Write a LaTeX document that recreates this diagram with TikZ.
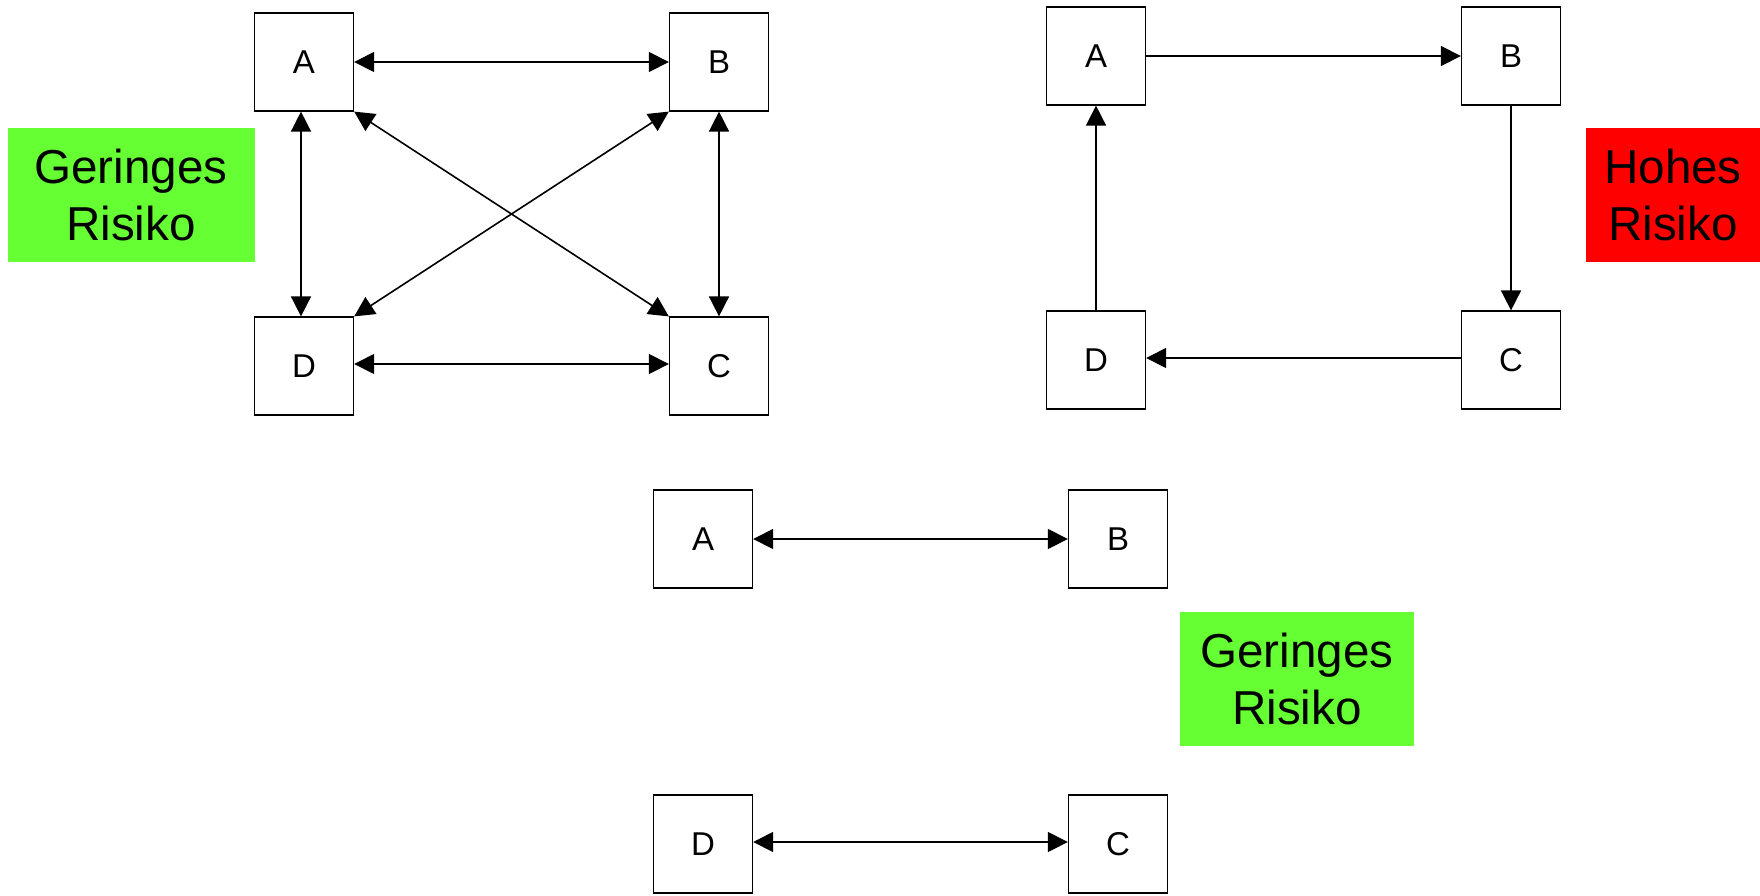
\documentclass[tikz,border=0pt]{standalone}
\usepackage{fontspec}
\setmainfont{Liberation Sans}
\usetikzlibrary{arrows.meta}
\definecolor{lowrisk}{RGB}{102,255,51}
\definecolor{highrisk}{RGB}{255,0,0}

\begin{document}
\begin{tikzpicture}[x=0.5pt,y=-0.5pt,thick,
	box/.style={rectangle,draw,fill=white,minimum width=49.4pt,minimum height=48.8pt,inner sep=0pt,font=\fontsize{16.5}{19}\selectfont},
	risk/.style={rectangle,inner sep=0pt,align=center,minimum height=67.3pt,font=\fontsize{23.8}{28.5}\selectfont},
	>={Triangle[length=10pt,width=10pt]}]
	\useasboundingbox (0,0) rectangle (1760,895);
	% Left group: everyone with everyone
	\node (la) [box] at (304,62) {A};
	\node (lb) [box] at (719,62) {B};
	\node (lc) [box] at (719,366) {C};
	\node (ld) [box] at (304,366) {D};
	\node (lrisk) [risk,fill=lowrisk,minimum width=123.5pt] at (131,195) {Geringes\\Risiko};
	\draw[<->] (la) -- (lb);
	\draw[<->] ([xshift=-1.5pt]la.south) -- ([xshift=-1.5pt]ld.north);
	\draw[<->] (lb) -- (lc);
	\draw[<->] ([yshift=1pt]ld.east) -- ([yshift=1pt]lc.west);
	\draw[<->] (la.south east) -- (lc.north west);
	\draw[<->] (lb.south west) -- (ld.north east);
	% Right group: one way round
	\node (ra) [box] at (1096,56) {A};
	\node (rb) [box] at (1511,56) {B};
	\node (rc) [box] at (1511,360) {C};
	\node (rd) [box] at (1096,360) {D};
	\node (rrisk) [risk,fill=highrisk,minimum width=87pt] at (1673,195) {Hohes\\Risiko};
	\draw[->] (ra) -- (rb);
	\draw[->] (rb) -- (rc);
	\draw[->] ([yshift=1pt]rc.west) -- ([yshift=1pt]rd.east);
	\draw[->] (rd) -- (ra);
	% Bottom group: pairs only
	\node (ba) [box] at (703,539) {A};
	\node (bb) [box] at (1118,539) {B};
	\node (bc) [box] at (1118,844) {C};
	\node (bd) [box] at (703,844) {D};
	\node (brisk) [risk,fill=lowrisk,minimum width=117pt] at (1297,679) {Geringes\\Risiko};
	\draw[<->] (ba) -- (bb);
	\draw[<->] ([yshift=1pt]bd.east) -- ([yshift=1pt]bc.west);
\end{tikzpicture}
\end{document}
